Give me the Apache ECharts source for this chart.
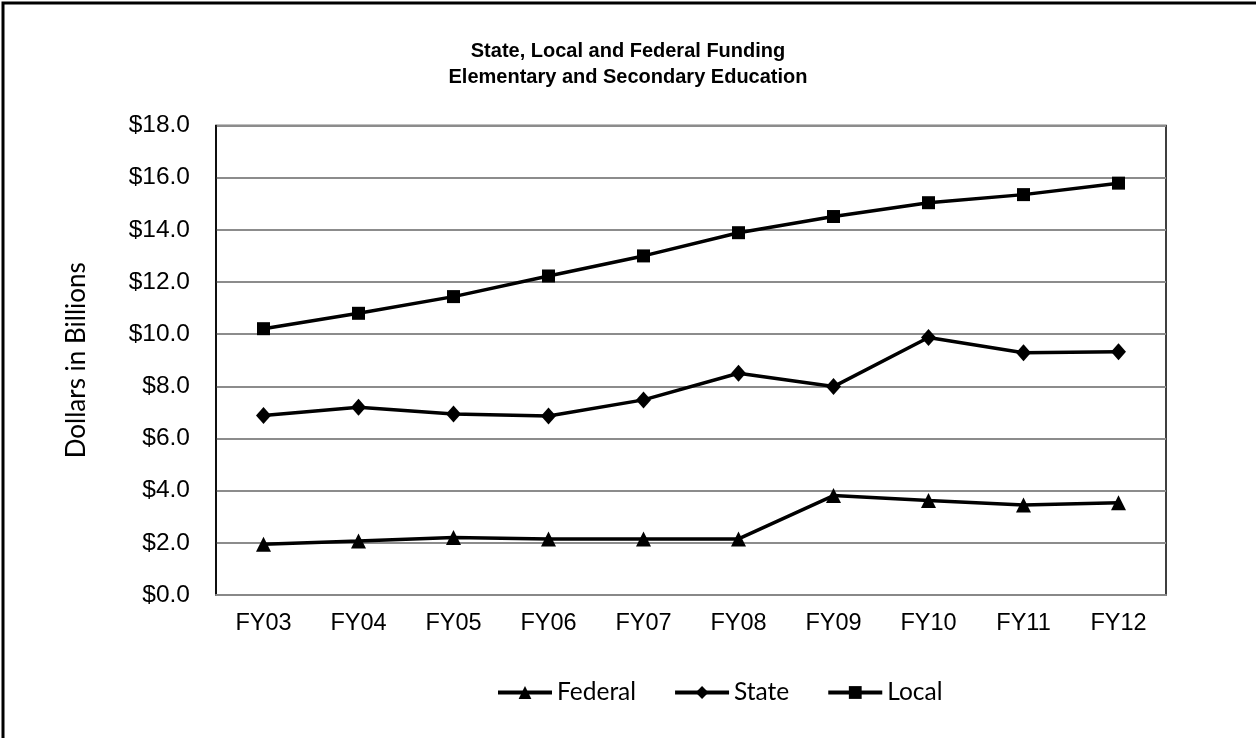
<!DOCTYPE html>
<html>
<head>
<meta charset="utf-8">
<script src="https://cdn.jsdelivr.net/npm/echarts@6/dist/echarts.min.js"></script>
<style>
html,body{margin:0;padding:0;background:#fff;}
#chart{width:1256px;height:738px;}
</style>
</head>
<body>
<div id="chart"></div>
<script>
const categories = ['FY03','FY04','FY05','FY06','FY07','FY08','FY09','FY10','FY11','FY12'];
const federal = [1.95, 2.07, 2.20, 2.15, 2.15, 2.15, 3.81, 3.62, 3.45, 3.54];
const state   = [6.88, 7.20, 6.94, 6.86, 7.48, 8.50, 7.99, 9.87, 9.29, 9.33];
const local   = [10.21, 10.80, 11.44, 12.23, 13.00, 13.89, 14.51, 15.04, 15.35, 15.79];
const titleLines = ['State, Local and Federal Funding', 'Elementary and Secondary Education'];
const yAxisName = 'Dollars in Billions';

const chart = echarts.init(document.getElementById('chart'), null, {renderer:'canvas'});
const lineStyle = {color:'#000', width:3.5};
chart.setOption({
  animation:false,
  backgroundColor:'#fff',
  graphic:[{type:'rect', shape:{x:3,y:3,width:1262,height:745}, style:{fill:'none', stroke:'#000', lineWidth:3}, z:100}],
  title:{
    text: titleLines.join('\n'),
    left:'center', top:33,
    textStyle:{fontFamily:'Liberation Sans, Arial', fontWeight:'bold', fontSize:20, color:'#000', lineHeight:26}
  },
  legend:{
    top:675, left:491,
    itemWidth:54, itemHeight:16, itemGap:37,
    lineStyle:{width:4},
    textStyle:{fontFamily:'Lato', fontSize:24.5, color:'#000'},
    data:['Federal','State','Local']
  },
  grid:{left:216, top:125.5, right:90, bottom:143, show:true, borderColor:'#000', borderWidth:1.5, containLabel:false},
  xAxis:{
    type:'category', data:categories, boundaryGap:true,
    axisLine:{lineStyle:{color:'#888', width:2}},
    axisTick:{show:false},
    axisLabel:{fontFamily:'Liberation Sans, Arial', fontSize:23.5, color:'#000', margin:17}
  },
  yAxis:{
    type:'value', min:0, max:18, interval:2,
    name:yAxisName, nameLocation:'middle', nameGap:126, nameRotate:90,
    nameTextStyle:{fontFamily:'Lato', fontSize:26, color:'#000'},
    axisLine:{show:true, lineStyle:{color:'#000', width:1.5}},
    axisTick:{show:false},
    splitLine:{lineStyle:{color:'#8c8c8c', width:2}},
    axisLabel:{fontFamily:'Liberation Sans, Arial', fontSize:24.5, color:'#000', margin:26,
      formatter:v=>'$'+v.toFixed(1)}
  },
  series:[
    {name:'Federal', type:'line', data:federal, symbol:'triangle', symbolSize:15,
     lineStyle:lineStyle, itemStyle:{color:'#000'}},
    {name:'State', type:'line', data:state, symbol:'diamond', symbolSize:[15,17],
     lineStyle:lineStyle, itemStyle:{color:'#000'}},
    {name:'Local', type:'line', data:local, symbol:'rect', symbolSize:13,
     lineStyle:lineStyle, itemStyle:{color:'#000'}}
  ]
});
</script>
</body>
</html>
